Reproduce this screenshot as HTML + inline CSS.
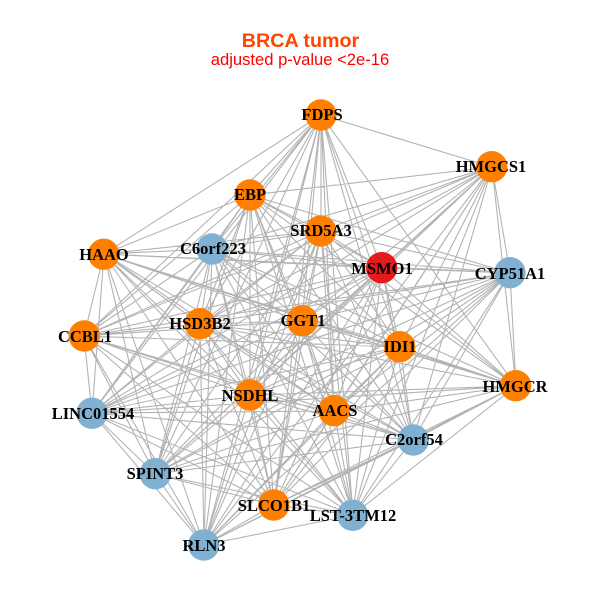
<!DOCTYPE html>
<html>
<head>
<meta charset="utf-8">
<title>BRCA tumor</title>
<style>
html,body{margin:0;padding:0;background:#fff}
svg{display:block}
.n text{font-family:"Liberation Serif",serif;font-weight:bold;font-size:16.5px;fill:#000;text-anchor:middle}
</style>
</head>
<body>
<svg width="600" height="600" viewBox="0 0 600 600" xmlns="http://www.w3.org/2000/svg">
<rect width="600" height="600" fill="#fff"/>
<text x="300.5" y="47" text-anchor="middle" font-family="Liberation Sans, sans-serif" font-weight="bold" font-size="19.7" fill="#ff4500">BRCA tumor</text>
<text x="300" y="65" text-anchor="middle" font-family="Liberation Sans, sans-serif" font-size="16.6" fill="#ff0000">adjusted p-value &lt;2e-16</text>
<path fill="none" stroke="#b3b3b3" stroke-width="1.1" stroke-linejoin="round" d="
M321 115L492 167 321 115 250 195 321 115 321 231 321 115 382 268 321 115 212 249 321 115 104 254 321 115 84 336 321 115 200 324 321 115 302 321 321 115 400 347 321 115 516 386 321 115 250 395 321 115 334 411 321 115 413 440 321 115 92 413 321 115 155 474 321 115 274 505 321 115 353 515 321 115 204 545
M492 167L250 195 492 167 321 231 492 167 382 268 492 167 510 273 492 167 212 249 492 167 84 336 492 167 200 324 492 167 302 321 492 167 400 347 492 167 516 386 492 167 250 395 492 167 334 411 492 167 413 440 492 167 92 413 492 167 155 474 492 167 274 505 492 167 353 515 492 167 204 545
M250 195L321 231 250 195 382 268 250 195 510 273 250 195 212 249 250 195 104 254 250 195 84 336 250 195 200 324 250 195 302 321 250 195 400 347 250 195 516 386 250 195 250 395 250 195 334 411 250 195 413 440 250 195 92 413 250 195 155 474 250 195 274 505 250 195 353 515 250 195 204 545
M321 231L382 268 321 231 510 273 321 231 212 249 321 231 104 254 321 231 84 336 321 231 200 324 321 231 302 321 321 231 400 347 321 231 516 386 321 231 250 395 321 231 334 411 321 231 413 440 321 231 92 413 321 231 155 474 321 231 274 505 321 231 353 515 321 231 204 545
M382 268L510 273 382 268 212 249 382 268 104 254 382 268 84 336 382 268 200 324 382 268 302 321 382 268 400 347 382 268 516 386 382 268 250 395 382 268 334 411 382 268 413 440 382 268 92 413 382 268 155 474 382 268 274 505 382 268 353 515 382 268 204 545
M510 273L212 249 510 273 104 254 510 273 84 336 510 273 200 324 510 273 302 321 510 273 400 347 510 273 516 386 510 273 250 395 510 273 334 411 510 273 413 440 510 273 92 413 510 273 155 474 510 273 274 505 510 273 353 515 510 273 204 545
M212 249L104 254 212 249 84 336 212 249 200 324 212 249 302 321 212 249 400 347 212 249 516 386 212 249 250 395 212 249 334 411 212 249 413 440 212 249 92 413 212 249 155 474 212 249 274 505 212 249 353 515 212 249 204 545
M104 254L84 336 104 254 200 324 104 254 302 321 104 254 400 347 104 254 516 386 104 254 250 395 104 254 334 411 104 254 413 440 104 254 92 413 104 254 155 474 104 254 274 505 104 254 353 515 104 254 204 545
M84 336L200 324 84 336 302 321 84 336 400 347 84 336 250 395 84 336 334 411 84 336 413 440 84 336 92 413 84 336 155 474 84 336 274 505 84 336 353 515 84 336 204 545
M200 324L302 321 200 324 400 347 200 324 516 386 200 324 250 395 200 324 334 411 200 324 413 440 200 324 92 413 200 324 155 474 200 324 274 505 200 324 353 515 200 324 204 545
M302 321L400 347 302 321 516 386 302 321 250 395 302 321 334 411 302 321 413 440 302 321 92 413 302 321 155 474 302 321 274 505 302 321 353 515 302 321 204 545
M400 347L516 386 400 347 250 395 400 347 334 411 400 347 413 440 400 347 92 413 400 347 155 474 400 347 274 505 400 347 353 515 400 347 204 545
M516 386L250 395 516 386 334 411 516 386 413 440 516 386 92 413 516 386 155 474 516 386 274 505 516 386 353 515 516 386 204 545
M250 395L334 411 250 395 413 440 250 395 92 413 250 395 155 474 250 395 274 505 250 395 353 515 250 395 204 545
M334 411L413 440 334 411 92 413 334 411 155 474 334 411 274 505 334 411 353 515 334 411 204 545
M413 440L92 413 413 440 155 474 413 440 274 505 413 440 353 515 413 440 204 545
M92 413L155 474 92 413 274 505 92 413 353 515 92 413 204 545
M155 474L274 505 155 474 353 515 155 474 204 545
M274 505L353 515 274 505 204 545
M353 515L204 545"/>
<g fill="#ff7f00">
<circle cx="321" cy="115" r="15.7"/>
<circle cx="491.7" cy="166.7" r="15.7"/>
<circle cx="250" cy="195" r="15.7"/>
<circle cx="320.7" cy="231" r="15.7"/>
<circle cx="103.7" cy="254.3" r="15.7"/>
<circle cx="84.3" cy="336" r="15.7"/>
<circle cx="200" cy="323.7" r="15.7"/>
<circle cx="302.3" cy="320.7" r="15.7"/>
<circle cx="399.7" cy="346.7" r="15.7"/>
<circle cx="515.7" cy="385.7" r="15.7"/>
<circle cx="250" cy="395" r="15.7"/>
<circle cx="334" cy="410.7" r="15.7"/>
<circle cx="273.7" cy="505" r="15.7"/>
</g>
<g fill="#80b1d3">
<circle cx="510" cy="272.7" r="15.7"/>
<circle cx="212" cy="249" r="15.7"/>
<circle cx="413.3" cy="440" r="15.7"/>
<circle cx="92" cy="413.3" r="15.7"/>
<circle cx="155.3" cy="473.7" r="15.7"/>
<circle cx="352.7" cy="515.3" r="15.7"/>
<circle cx="203.7" cy="545" r="15.7"/>
</g>
<circle cx="381.7" cy="267.7" r="15.7" fill="#e41a1c"/>
<g class="n">
<text x="322" y="120">FDPS</text>
<text x="491" y="172">HMGCS1</text>
<text x="250" y="200">EBP</text>
<text x="321" y="236">SRD5A3</text>
<text x="382" y="274">MSMO1</text>
<text x="510" y="279">CYP51A1</text>
<text x="213" y="254">C6orf223</text>
<text x="104" y="260">HAAO</text>
<text x="85" y="342">CCBL1</text>
<text x="200" y="329">HSD3B2</text>
<text x="303" y="326">GGT1</text>
<text x="400" y="352">IDI1</text>
<text x="515" y="392">HMGCR</text>
<text x="250" y="401">NSDHL</text>
<text x="335" y="416">AACS</text>
<text x="414" y="445">C2orf54</text>
<text x="93" y="419">LINC01554</text>
<text x="155" y="479">SPINT3</text>
<text x="274" y="511">SLCO1B1</text>
<text x="353" y="521">LST-3TM12</text>
<text x="204" y="551">RLN3</text>
</g>
</svg>
</body>
</html>
